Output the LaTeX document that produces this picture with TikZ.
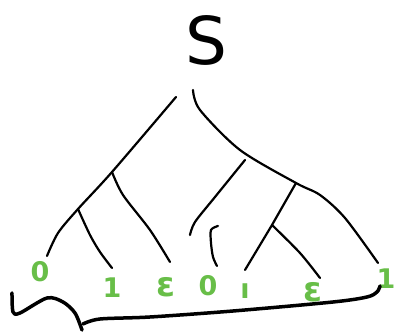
\documentclass[tikz,border=0pt]{standalone}
\usepackage{fontspec}
\setsansfont{DejaVu Sans}
\definecolor{leafgreen}{RGB}{104,190,72}

\begin{document}
\begin{tikzpicture}[x=1pt, y=-1pt, line width=2.2pt, line cap=round, line join=round,
  leaf/.style={text=leafgreen, font=\sffamily\bfseries\fontsize{27}{27}\selectfont, inner sep=0pt},
  eps/.style={leaf, font=\sffamily\bfseries\fontsize{34}{34}\selectfont},
  brace/.style={line width=3.5pt}]
  \useasboundingbox (0,0) rectangle (400,336);
  \node[font=\sffamily\fontsize{66}{66}\selectfont, inner sep=0pt] (S) at (206,40) {S};
  \coordinate (L0) at (176,97);
  \coordinate (L1) at (112,172);
  \coordinate (L2) at (78,209);
  \coordinate (L3) at (47,256);
  \coordinate (R0) at (193,90);
  \coordinate (R1) at (296,183);
  \coordinate (R2) at (272,225);
  \coordinate (R3) at (378,263);
  \coordinate (M0) at (245,160);
  \coordinate (M1) at (190,235);
  \coordinate (P0) at (218,226);
  \coordinate (P1) at (217,266);
  \coordinate (B0) at (12,293);
  \coordinate (B1) at (82,330);
  \coordinate (B2) at (380,286);
  \node[leaf] (n0) at (40,272) {0};
  \node[leaf] (n1) at (112,288) {1};
  \node[eps] (e1) at (166,287) {ε};
  \node[leaf] (n2) at (208,286) {0};
  \node[leaf] (n3) at (245,291) {ı};
  \node[eps] (e2) at (313,292) {ε};
  \node[leaf] (n4) at (386,279) {1};
  \draw plot[smooth] coordinates {(L0) (L1) (L2) (58,233) (L3)};
  \draw plot[smooth] coordinates {(L1) (123,195) (150,230) (170,262)};
  \draw plot[smooth] coordinates {(L2) (90,235) (100,252) (112,268)};
  \draw plot[smooth] coordinates {(R0) (200,110) (240,150) (R1) (320,195) (345,218) (R3)};
  \draw (R1) -- (R2) -- (245,270);
  \draw plot[smooth] coordinates {(R2) (300,253) (320,278)};
  \draw plot[smooth] coordinates {(M0) (215,197) (195,222) (M1)};
  \draw plot[smooth] coordinates {(P0) (211,230) (211,243) (213,257) (P1)};
  \draw[brace] plot[smooth] coordinates {(B0) (13,312) (20,313) (47,298) (63,302) (75,313) (B1)};
  \draw[brace] plot[smooth] coordinates {(83,324) (100,319) (150,317) (233,311) (333,302) (367,297) (377,292) (B2)};
\end{tikzpicture}
\end{document}
